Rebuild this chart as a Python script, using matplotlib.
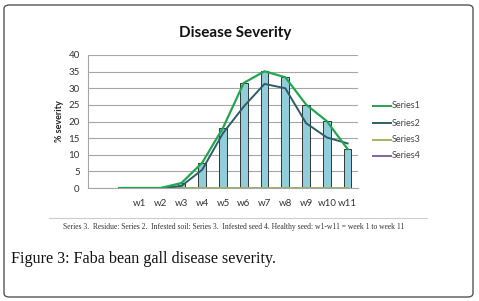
import numpy as np
import matplotlib.pyplot as plt
from matplotlib.patches import FancyBboxPatch

# categories: two empty slots before w1 (as in the original Excel sheet)
categories = ["", "", "w1", "w2", "w3", "w4", "w5", "w6", "w7", "w8", "w9", "w10", "w11"]
nan = np.nan
bars = [nan, nan, 0, 0, 1.5, 7.6, 18.1, 31.6, 35.1, 33.3, 25.1, 20.1, 11.7]
series1 = [nan, 0, 0, 0, 1.5, 7.6, 18.1, 31.6, 35.1, 33.3, 25.1, 20.1, 11.7]
series2 = [nan, 0, 0, 0, 0.6, 5.5, 16.5, 24.5, 31.3, 30.0, 19.5, 15.2, 13.4]
series3 = [nan, 0, 0, 0, 0, 0, 0, 0, 0, 0, 0, 0, 0]
series4 = [nan, 0, 0, 0, 0, 0, 0, 0, 0, 0, 0, 0, 0]
names = ["Series1", "Series2", "Series3", "Series4"]
colors = ["#22a650", "#2e5d68", "#9bbb59", "#8064a2"]

W, H = 479, 301
fig = plt.figure(figsize=(W / 100, H / 100), dpi=100)
fig.patch.set_facecolor("white")

# outer rounded frame
frame = FancyBboxPatch((4 / W, 4 / H), 469 / W, 292 / H,
                       boxstyle="round,pad=0,rounding_size=0.012",
                       transform=fig.transFigure, fill=False,
                       edgecolor="#555555", linewidth=1.0)
fig.add_artist(frame)

ax = fig.add_axes([88 / W, 1 - 188 / H, 270 / W, 133 / H])
x = np.arange(len(categories))

ax.bar(x, bars, width=0.37, color="#92cddc", edgecolor="#1a1a1a",
       linewidth=0.6, zorder=3)
ax.plot(x, series4, color=colors[3], lw=1.3, zorder=4)
ax.plot(x, series3, color=colors[2], lw=1.3, zorder=4)
ax.plot(x, series2, color=colors[1], lw=1.4, zorder=5)
ax.plot(x, series1, color=colors[0], lw=1.6, zorder=6)

ax.set_xlim(-0.5, len(categories) - 0.5)
ax.set_ylim(0, 40)
ax.set_yticks(range(0, 41, 5))
ax.yaxis.grid(True, color="#a6a6a6", linewidth=0.8)
ax.set_axisbelow(True)
ax.set_xticks(x)
ax.set_xticklabels(categories)
ax.tick_params(axis="x", length=0, pad=8, labelsize=7, labelcolor="#333333")
ax.tick_params(axis="y", length=0, pad=6, labelsize=7, labelcolor="#333333")
for lab in ax.get_xticklabels() + ax.get_yticklabels():
    lab.set_fontfamily("Lato")
for s in ["top", "right"]:
    ax.spines[s].set_visible(False)
ax.spines["left"].set_color("#a6a6a6")
ax.spines["bottom"].set_color("#a6a6a6")
ax.set_ylabel("% severity", fontsize=6.5, fontweight="bold", family="Lato",
              labelpad=3, color="#222222")

# legend drawn by hand, as in the picture
leg_y = [106, 123, 140, 156]
for name, c, yy in zip(names, colors, leg_y):
    fig.add_artist(plt.Line2D([373 / W, 391 / W], [1 - yy / H, 1 - yy / H],
                              color=c, lw=1.4, transform=fig.transFigure))
    fig.text(392 / W, 1 - yy / H, name, fontsize=6.5, family="Lato",
             color="#444444", va="center", ha="left")

fig.text(235 / W, 1 - 33 / H, "Disease Severity", fontsize=11, fontweight="bold",
         family="Lato", ha="center", va="center", color="#111111")

# separator + footnote
fig.add_artist(plt.Line2D([49 / W, 427 / W], [1 - 218 / H, 1 - 218 / H],
                          color="#cccccc", lw=0.8, transform=fig.transFigure))
fig.text(234 / W, 1 - 227 / H,
         "Series 3.  Residue: Series 2.  Infested soil: Series 3.  Infested seed 4. Healthy seed: w1-w11 = week 1 to week 11",
         fontsize=5.5, family="Liberation Serif", ha="center", va="center",
         color="#333333")

fig.text(11 / W, 1 - 259 / H, "Figure 3: Faba bean gall disease severity.",
         fontsize=11.6, family="Liberation Serif", ha="left", va="center",
         color="#111111")

fig.savefig("out.png", dpi=100)
